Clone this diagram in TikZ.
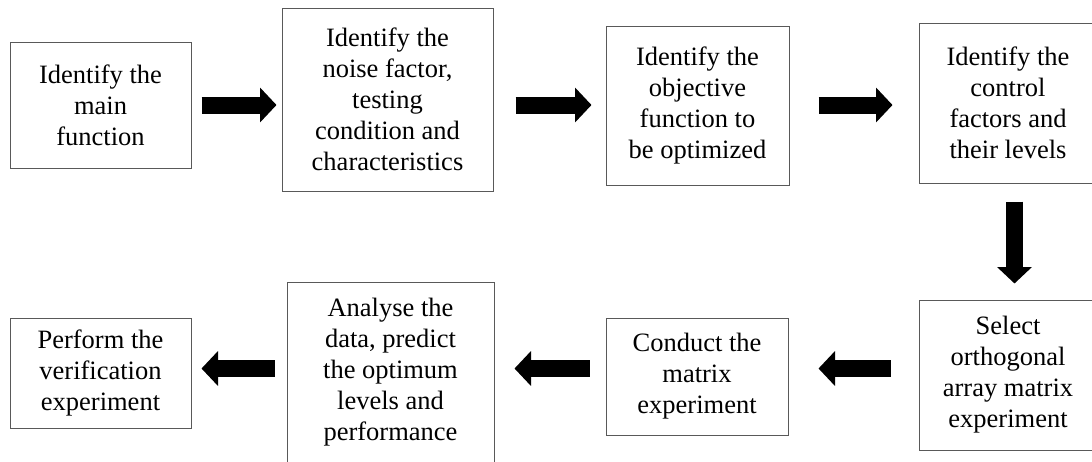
\documentclass[tikz,border=0pt]{standalone}
\usepackage{fontspec}
\setmainfont{Liberation Serif}
\usetikzlibrary{arrows.meta}
\tikzset{
  stepbox/.style={draw=black!65, line width=1pt, fill=white, inner sep=0pt,
    align=center, font=\fontsize{26.5}{31}\selectfont, text=black},
  blockarrow/.style={line width=17pt, draw=black, line cap=butt,
    -{Triangle[length=16.5pt,width=34pt]}}
}
\begin{document}
\begin{tikzpicture}[x=1pt,y=-1pt]
\useasboundingbox[fill=white] (0,0) rectangle (1092,461);
% top row
\node[stepbox, minimum width=181pt, minimum height=126pt] (b1) at (100.5,105) {Identify the\\main\\function};
\node[stepbox, minimum width=211pt, minimum height=183pt] (b2) at (387.5,99.5) {Identify the\\noise factor,\\testing\\condition and\\characteristics};
\node[stepbox, minimum width=183pt, minimum height=159pt] (b3) at (697.5,105.5) {Identify the\\objective\\function to\\be optimized};
\node[stepbox, minimum width=178pt, minimum height=160pt] (b4) at (1008,103) {Identify the\\control\\factors and\\their levels};
% bottom row
\node[stepbox, minimum width=178pt, minimum height=150pt] (b5) at (1008,375) {Select\\orthogonal\\array matrix\\experiment};
\node[stepbox, minimum width=182pt, minimum height=117pt] (b6) at (697,376.5) {Conduct the\\matrix\\experiment};
\node[stepbox, minimum width=207pt, minimum height=181pt] (b7) at (390.5,372.5) {Analyse the\\data, predict\\the optimum\\levels and\\performance};
\node[stepbox, minimum width=181pt, minimum height=110pt] (b8) at (100.5,373) {Perform the\\verification\\experiment};
% arrow levels
\coordinate (ytop) at (0,105);
\coordinate (ylow) at (0,368.5);
% connectors
\draw[blockarrow] ([xshift=10pt]b1.east |- ytop) -- ([xshift=-5pt]b2.west |- ytop);
\draw[blockarrow] ([xshift=22pt]b2.east |- ytop) -- ([xshift=-14pt]b3.west |- ytop);
\draw[blockarrow] ([xshift=29pt]b3.east |- ytop) -- ([xshift=-26pt]b4.west |- ytop);
\draw[blockarrow] ([xshift=6.5pt,yshift=-18pt]b4.south) -- ([xshift=6.5pt,yshift=16pt]b5.north);
\draw[blockarrow] ([xshift=-28pt]b5.west |- ylow) -- ([xshift=30pt]b6.east |- ylow);
\draw[blockarrow] ([xshift=-16pt]b6.west |- ylow) -- ([xshift=20pt]b7.east |- ylow);
\draw[blockarrow] ([xshift=-12pt]b7.west |- ylow) -- ([xshift=10pt]b8.east |- ylow);
\end{tikzpicture}
\end{document}
